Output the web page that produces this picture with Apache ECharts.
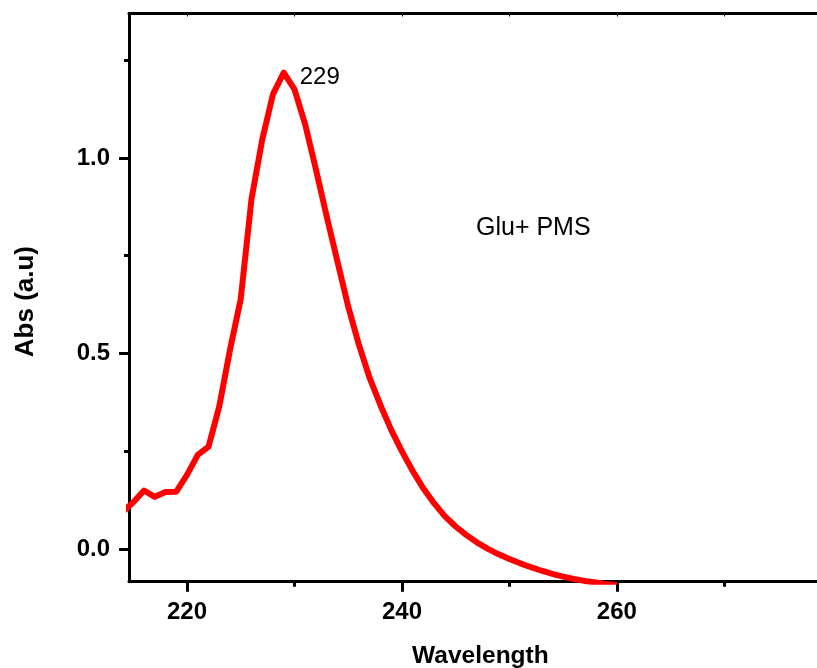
<!doctype html>
<html>
	<head>
		<meta charset="UTF-8">
		<title>Abs</title>
		<style>
			html, body { margin: 0; padding: 0; background: #fff; }
			#main { width: 817px; height: 668px; }
		</style>
	</head>
	<body>
		<div id="main"></div>
		<script type="text/javascript" src="https://cdn.jsdelivr.net/npm/echarts@6.0.0/dist/echarts.min.js"></script>
		<script type="text/javascript">
			// 数据
			var wavelength = [214, 215, 216, 217, 218, 219, 220, 221, 222, 223, 224, 225, 226, 227, 228, 229, 230,
				231, 232, 233, 234, 235, 236, 237, 238, 239, 240, 241, 242, 243, 244, 245, 246, 247,
				248, 249, 250, 251, 252, 253, 254, 255, 256, 257, 258, 259, 260];
			var absorbance = [0.095, 0.12, 0.15, 0.134, 0.146, 0.147, 0.19, 0.241, 0.262, 0.365, 0.51, 0.64, 0.895, 1.047, 1.163, 1.218, 1.175,
				1.085, 0.97, 0.85, 0.735, 0.62, 0.522, 0.437, 0.368, 0.305, 0.25, 0.2, 0.155, 0.117, 0.084, 0.058, 0.036, 0.017,
				0.001, -0.013, -0.025, -0.036, -0.046, -0.055, -0.063, -0.07, -0.076, -0.081, -0.085, -0.089, -0.092];
			var xMajorTicks = [220, 240, 260, 280];
			var xMinorTicks = [230, 250, 270];
			var xTopTicks = [220, 230, 240, 250, 260, 270, 280];
			var yMajorTicks = [0, 0.5, 1.0];
			var yMinorTicks = [0.25, 0.75, 1.25];
			var peak = [229, 1.218];
			var sampleName = 'Glu+ PMS';

			var points = wavelength.map(function (w, i) { return [w, absorbance[i]]; });

			var font = '"Liberation Sans", Arial, sans-serif';
			var xMin = 214.6, xMax = 280;
			var yMin = -0.083, yMax = 1.369;

			var myChart = echarts.init(document.getElementById('main'), null, { renderer: 'canvas' });

			var option = {
				animation: false,
				backgroundColor: '#fff',
				// plot runs past the right edge, like the cropped original
				grid: { left: 129, top: 13.5, width: 702.8, height: 568.2, outerBoundsMode: 'none', containLabel: false },
				graphic: [{
					type: 'text',
					left: 476,
					top: 216,
					style: { text: sampleName, fill: '#000', font: '25px ' + font }
				}],
				xAxis: [{
					type: 'value', min: xMin, max: xMax, position: 'bottom',
					name: 'Wavelength', nameLocation: 'middle', nameGap: 62,
					nameTextStyle: { color: '#000', fontSize: 24.5, fontWeight: 'bold', fontFamily: font },
					axisLine: { show: true, onZero: false, lineStyle: { color: '#000', width: 3 } },
					axisTick: { show: true, inside: false, length: 10, customValues: xMajorTicks, lineStyle: { color: '#000', width: 3 } },
					axisLabel: { show: true, margin: 19, customValues: [220, 240, 260], color: '#000', fontSize: 24, fontWeight: 'bold', fontFamily: font },
					splitLine: { show: false }
				}, {
					// minor ticks
					type: 'value', min: xMin, max: xMax, position: 'bottom',
					axisLine: { show: false, onZero: false },
					axisTick: { show: true, length: 5, customValues: xMinorTicks, lineStyle: { color: '#000', width: 3 } },
					axisLabel: { show: false },
					splitLine: { show: false }
				}, {
					// top frame
					type: 'value', min: xMin, max: xMax, position: 'top',
					axisLine: { show: true, onZero: false, lineStyle: { color: '#000', width: 3 } },
					axisTick: { show: true, inside: true, length: 3, customValues: xTopTicks, lineStyle: { color: '#000', width: 1 } },
					axisLabel: { show: false },
					splitLine: { show: false }
				}],
				yAxis: [{
					type: 'value', min: yMin, max: yMax, position: 'left',
					name: 'Abs (a.u)', nameLocation: 'middle', nameGap: 90, nameRotate: 90,
					nameTextStyle: { color: '#000', fontSize: 26, fontWeight: 'bold', fontFamily: font, padding: [0, 8, 0, 0] },
					axisLine: { show: true, onZero: false, lineStyle: { color: '#000', width: 3 } },
					axisTick: { show: true, inside: false, length: 10, customValues: yMajorTicks, lineStyle: { color: '#000', width: 3 } },
					axisLabel: {
						show: true, margin: 19, customValues: yMajorTicks, color: '#000', fontSize: 24, fontWeight: 'bold', fontFamily: font,
						formatter: function (v) { return v.toFixed(1); }
					},
					splitLine: { show: false }
				}, {
					type: 'value', min: yMin, max: yMax, position: 'left',
					axisLine: { show: false, onZero: false },
					axisTick: { show: true, length: 5, customValues: yMinorTicks, lineStyle: { color: '#000', width: 3 } },
					axisLabel: { show: false },
					splitLine: { show: false }
				}],
				series: [{
					name: sampleName,
					type: 'line',
					xAxisIndex: 0,
					yAxisIndex: 0,
					data: points,
					showSymbol: false,
					symbol: 'none',
					clip: true,
					lineStyle: { color: '#ff0000', width: 6, join: 'round' },
					markPoint: {
						symbol: 'circle',
						symbolSize: 0,
						data: [{ coord: peak }],
						label: {
							show: true, position: 'right', distance: 16, offset: [0, 5],
							formatter: String(peak[0]), color: '#000', fontSize: 24, fontFamily: font
						}
					}
				}]
			};

			myChart.setOption(option);
		</script>
	</body>
</html>
